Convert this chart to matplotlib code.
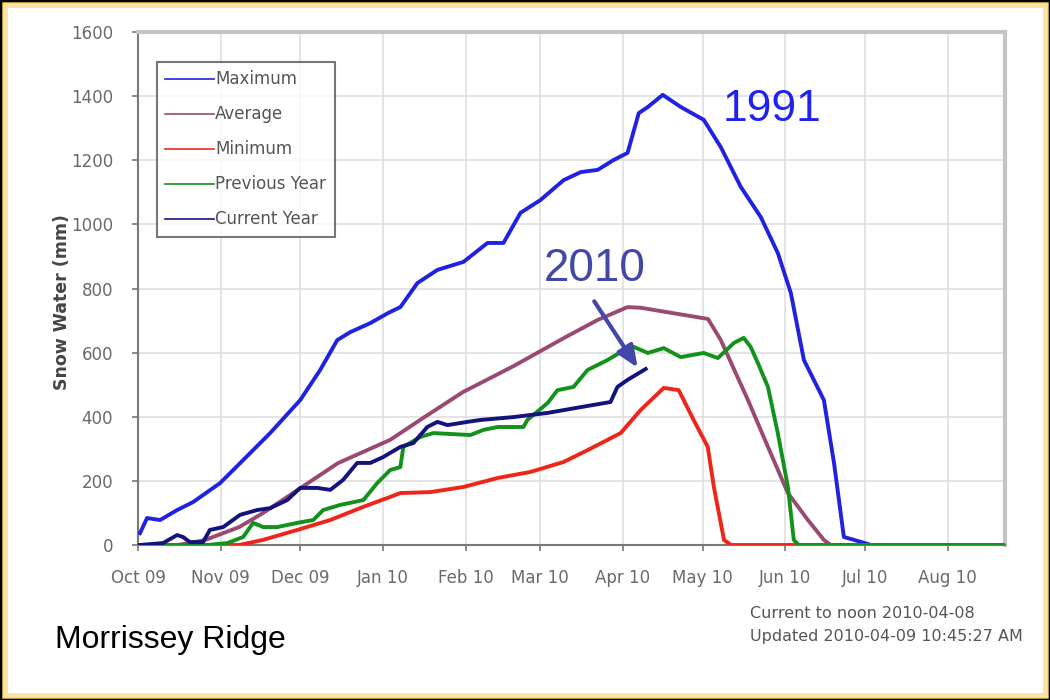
import matplotlib
matplotlib.use("Agg")
import matplotlib.pyplot as plt
from matplotlib.patches import Rectangle

# ---- data (x = days since 2009-10-01, y = snow water equivalent in mm) ----
month_days = [0, 31, 61, 92, 123, 151, 182, 212, 243, 273, 304]
month_labels = ["Oct 09", "Nov 09", "Dec 09", "Jan 10", "Feb 10", "Mar 10",
                "Apr 10", "May 10", "Jun 10", "Jul 10", "Aug 10"]
y_ticks = [0, 200, 400, 600, 800, 1000, 1200, 1400, 1600]

max_days = [0.75, 3.4, 8.3, 14.7, 20.7, 30.8, 39.5, 49.6, 60.9, 68.4, 74.8, 79.7,
            87.2, 94, 98.5, 104.9, 112.4, 122.2, 131.2, 137.2, 143.6, 151.1,
            159.8, 166.2, 172.6, 178.6, 183.8, 188, 191.4, 197, 203.8, 212.4,
            218.8, 226.3, 233.8, 240.2, 245.1, 250, 257.5, 261.3, 265, 268.8,
            275.2, 326]
max_vals = [37, 84, 78, 109, 134, 193, 265, 349, 452, 546, 639, 664,
            692, 724, 742, 817, 858, 883, 942, 942, 1036, 1076,
            1138, 1163, 1170, 1201, 1223, 1347, 1366, 1404, 1366, 1326,
            1241, 1117, 1023, 911, 786, 577, 452, 256, 25, 16,
            0, 0]

avg_days = [0, 15, 25, 38, 47, 60, 75, 94.7, 107, 122, 141, 160, 172.6, 183.8,
            188.7, 214, 218.8, 229, 236.5, 244, 251.5, 257.5, 260, 326]
avg_vals = [0, 0, 15, 56, 100, 172, 255, 328, 396, 477, 558, 646, 702, 742,
            740, 705, 639, 452, 306, 162, 78, 16, 0, 0]

min_days = [0, 38, 47, 59.8, 72.2, 84.6, 94.7, 98.5, 109.8, 122.2, 135, 147.4,
            159.8, 168.8, 181.2, 188.7, 197.4, 203, 208.6, 213.9, 216.2, 220,
            222.6, 326]
min_vals = [0, 0, 16, 47, 78, 119, 150, 162, 165, 181, 209, 228,
            259, 296, 349, 421, 490, 483, 390, 306, 181, 16,
            0, 0]

prev_days = [0, 26, 33.5, 39.5, 43.2, 47, 52.3, 59.8, 65.8, 69.5, 75.9, 84.6,
             89.8, 94.7, 98.5, 99.6, 106, 110.9, 124.8, 129.7, 135, 144.7,
             146.2, 153.8, 157.5, 163.5, 168.8, 176.3, 183.8, 186.1, 191.4,
             197.4, 203.8, 212.4, 217.7, 223.7, 227.4, 230, 232.7, 236.5,
             240.2, 244, 246.2, 248, 326]
prev_vals = [0, 0, 6, 25, 69, 56, 56, 69, 78, 109, 125, 140,
             193, 234, 243, 306, 337, 349, 343, 359, 368, 368,
             390, 443, 483, 493, 546, 577, 614, 618, 599,
             614, 586, 599, 583, 630, 646, 618, 568, 493,
             349, 181, 16, 0, 0]

cur_days = [0.75, 9.4, 14.7, 16.9, 19.5, 24.4, 27, 32, 38.3, 44.7, 49.6, 56,
            60.9, 67.3, 72.2, 77, 82.3, 87.2, 92, 98.5, 103.4, 108.6, 112.4,
            116.2, 123.7, 128.6, 141, 153.8, 166.2, 177.4, 180, 183.8, 190.6]
cur_vals = [0, 6, 31, 25, 9, 9, 47, 56, 94, 109, 115, 140,
            178, 178, 172, 203, 256, 256, 274, 306, 318, 368, 384,
            374, 384, 390, 399, 412, 430, 446, 493, 515, 549]

# ---- figure ----
W, H = 1050, 700
fig = plt.figure(figsize=(W / 100, H / 100), dpi=100)
fig.patch.set_facecolor("white")

# frame around the slide
fig.patches.append(Rectangle((0.004, 0.006), 0.992, 0.988, transform=fig.transFigure,
                             fill=False, edgecolor="#fbe3a6", linewidth=5))
fig.patches.append(Rectangle((0.001, 0.002), 0.998, 0.996, transform=fig.transFigure,
                             fill=False, edgecolor="#f3c04f", linewidth=2.5))
fig.patches.append(Rectangle((0.0, 0.0), 1.0, 1.0, transform=fig.transFigure,
                             fill=False, edgecolor="black", linewidth=2.5))

ax = fig.add_axes([138 / W, 1 - 545 / H, (1005 - 138) / W, (545 - 32) / H])
ax.set_facecolor("white")

lw = 2.8
ax.plot(max_days, max_vals, color="#1f22e0", lw=lw, label="Maximum",
        solid_joinstyle="round", zorder=3)
ax.plot(avg_days, avg_vals, color="#9a4a72", lw=lw, label="Average",
        solid_joinstyle="round", zorder=3)
ax.plot(min_days, min_vals, color="#f0251a", lw=lw, label="Minimum",
        solid_joinstyle="round", zorder=3)
ax.plot(prev_days, prev_vals, color="#12921a", lw=lw, label="Previous Year",
        solid_joinstyle="round", zorder=3)
ax.plot(cur_days, cur_vals, color="#13137e", lw=lw, label="Current Year",
        solid_joinstyle="round", zorder=3)

ax.set_xlim(0, 325.5)
ax.set_ylim(0, 1600)
ax.set_xticks(month_days)
ax.set_xticklabels(month_labels)
ax.set_yticks(y_ticks)
ax.set_yticklabels([str(v) for v in y_ticks])
ax.tick_params(axis="both", colors="#777777", labelsize=12, length=4, width=1.2,
               direction="out")
ax.tick_params(axis="x", pad=13)
ax.tick_params(axis="y", pad=14)
for lab in ax.get_xticklabels() + ax.get_yticklabels():
    lab.set_color("#6a6a6a")

ax.grid(True, color="#dcdcdc", linewidth=1.1, zorder=0)
ax.set_axisbelow(True)
for side in ("left", "bottom"):
    ax.spines[side].set_color("#7a7a7a")
    ax.spines[side].set_linewidth(1.5)
for side in ("top", "right"):
    ax.spines[side].set_color("#c4c4c4")
    ax.spines[side].set_linewidth(3)

fig.text(62 / W, 1 - 302 / H, "Snow Water (mm)", rotation=90, ha="center",
         va="center", fontsize=12.5, fontweight="bold", color="#444444")

leg = ax.legend(loc="upper left", bbox_to_anchor=((157 - 138) / 867, (545 - 62) / 513),
                fontsize=12, frameon=True, fancybox=False, borderaxespad=0,
                handlelength=2.9, handletextpad=0.1, labelspacing=1.02,
                borderpad=0.5)
leg.get_frame().set_edgecolor("#555555")
leg.get_frame().set_linewidth(1.5)
for line in leg.get_lines():
    line.set_linewidth(1.2)
for t in leg.get_texts():
    t.set_color("#555555")

# annotations
ax.text(238, 1357, "1991", color="#1f22f0", fontsize=32, ha="center", va="center",
        family=["Liberation Sans", "DejaVu Sans"])
ax.text(171.5, 862, "2010", color="#4347a8", fontsize=33, ha="center", va="center",
        family=["Liberation Sans", "DejaVu Sans"])
ax.annotate("", xy=(187.6, 553), xytext=(171.3, 760),
            arrowprops=dict(arrowstyle="-|>,head_length=1.3,head_width=0.55",
                            color="#4347a8", lw=3.0, shrinkA=0, shrinkB=0))

fig.text(55 / W, 1 - 640 / H, "Morrissey Ridge", fontsize=23, ha="left", va="center",
         color="black", family=["Liberation Sans", "DejaVu Sans"])
fig.text(750 / W, 1 - 614 / H, "Current to noon 2010-04-08", fontsize=11.5,
         ha="left", va="center", color="#555555")
fig.text(750 / W, 1 - 636 / H, "Updated 2010-04-09 10:45:27 AM", fontsize=11.5,
         ha="left", va="center", color="#555555")

fig.savefig("out.png", dpi=100, facecolor=fig.get_facecolor())
